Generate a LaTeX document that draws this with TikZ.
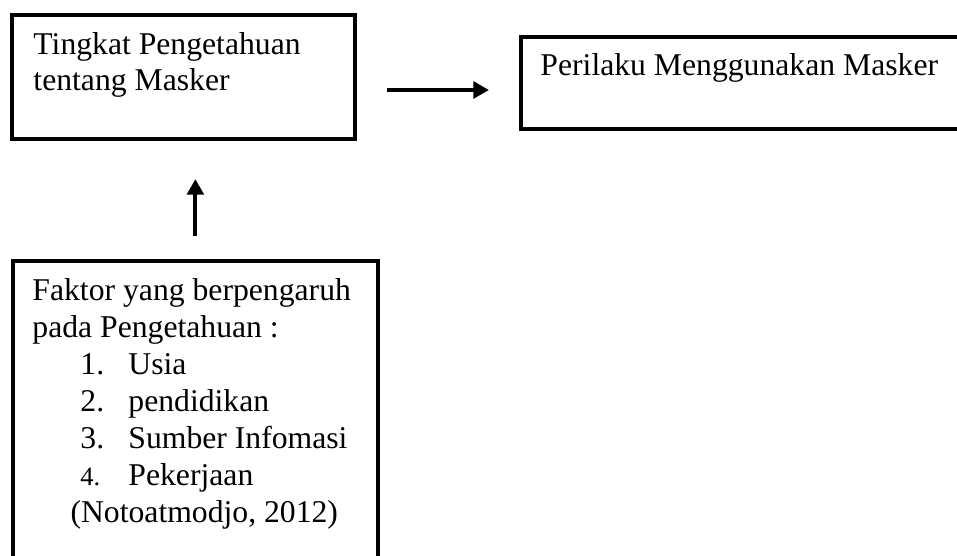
\documentclass[tikz,border=0pt]{standalone}
\usepackage{fontspec}
\setmainfont{Liberation Serif}
\usepackage{tikz}
\usetikzlibrary{arrows.meta}
\tikzset{>={Triangle[length=6.6pt,width=7pt]}}

\begin{document}
\begin{tikzpicture}[x=0.423pt,y=-0.423pt,
    box/.style={draw,line width=1.6pt,inner sep=0pt,anchor=north west},
    txt/.style={anchor=base west,align=left,inner sep=0pt,font=\fontsize{13.4}{15.6}\selectfont},
    arr/.style={->,line width=1.7pt}]
    \useasboundingbox (0,0) rectangle (957,556);
    \clip (0,0) rectangle (957,556);
    % boxes
    \node[box,minimum width=343*0.423pt,minimum height=124*0.423pt] (tingkat) at (10,13) {};
    \node[box,minimum width=470*0.423pt,minimum height=92*0.423pt] (perilaku) at (519,35) {};
    \node[box,minimum width=365*0.423pt,minimum height=341*0.423pt] (faktor) at (11,259) {};
    % texts (base = last line)
    \node[txt] (tingkattxt) at (33,91) {Tingkat Pengetahuan\\tentang Masker};
    \node[txt] (perilakutxt) at (540,76) {Perilaku Menggunakan Masker};
    \node[txt] (faktortxt) at (32,522) {Faktor yang berpengaruh\\
      pada Pengetahuan :\\
      \hspace*{20.3pt}\makebox[20.3pt][l]{1.}Usia\\
      \hspace*{20.3pt}\makebox[20.3pt][l]{2.}pendidikan\\
      \hspace*{20.3pt}\makebox[20.3pt][l]{3.}Sumber Infomasi\\
      \hspace*{20.3pt}\makebox[20.3pt][l]{\fontsize{11.2}{12}\selectfont 4.}Pekerjaan\\
      \hspace*{16.1pt}(Notoatmodjo, 2012)};
    % arrows
    \draw[arr,shorten <=12.8pt,shorten >=12.7pt] (tingkat.east |- 0,90) -- (perilaku.west |- 0,90);
    \draw[arr,shorten <=9.9pt,shorten >=16.2pt] (faktor.north) -- (faktor.north |- tingkat.south);
\end{tikzpicture}
\end{document}
